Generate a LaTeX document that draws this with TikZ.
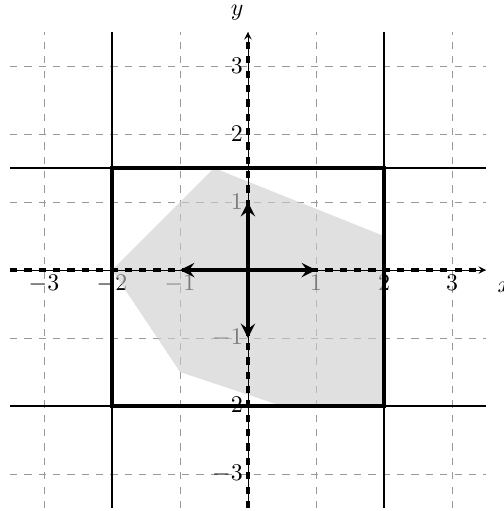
\documentclass[tikz,border=0pt]{standalone}
\usepackage{tikz}
\usetikzlibrary{arrows, positioning}
\usepackage{amsmath}
\tikzstyle{gridline}  = [gray!80, dashed, thin]
\tikzstyle{axis}      = [thin, ->, >=stealth]
\tikzstyle{zeroline}  = [line width=1.4pt, dashed]
\tikzstyle{bound}     = [thick]
\tikzstyle{boxline}   = [ultra thick]
\tikzstyle{region}    = [fill=gray!40, opacity=0.6]
\tikzstyle{vector}    = [ultra thick, ->, >=stealth]
\tikzstyle{tick}      = [inner sep=2pt]

\begin{document}
\begin{tikzpicture}

\useasboundingbox (-3.647,-3.544) rectangle (3.765,3.971);

% mřížka
\draw[gridline] (-3.5,-3.5) grid (3.5,3.5);

% popisky na ose x
\node[tick, below] (xm3) at (-3,0) {$-3$};
\node[tick, below] (xm2) at (-2,0) {$-2$};
\node[tick, below] (xm1) at (-1,0) {$-1$};
\node[tick, below] (xp1) at (1,0)  {$1$};
\node[tick, below] (xp2) at (2,0)  {$2$};
\node[tick, below] (xp3) at (3,0)  {$3$};

% popisky na ose y
\node[tick, left] (ym3) at (0,-3) {$-3$};
\node[tick, left] (ym2) at (0,-2) {$-2$};
\node[tick, left] (ym1) at (0,-1) {$-1$};
\node[tick, left] (yp1) at (0,1)  {$1$};
\node[tick, left] (yp2) at (0,2)  {$2$};
\node[tick, left] (yp3) at (0,3)  {$3$};

% přípustná oblast
\fill[region] (-0.5,1.5) -- (2,0.5) -- (2,-2) -- (0.5,-2) -- (-1,-1.5) -- (-2,0) -- cycle;

% hraniční přímky
\draw[bound] (-3.5,1.5) -- (3.5,1.5);
\draw[bound] (-3.5,-2) -- (3.5,-2);
\draw[bound] (-2,-3.5) -- (-2,3.5);
\draw[bound] (2,-3.5) -- (2,3.5);

% obdélník
\draw[boxline] (-2,-2) rectangle (2,1.5);

% osy
\draw[axis] (-3.5,0) -- (3.5,0);
\draw[axis] (0,-3.5) -- (0,3.5);
\draw[zeroline] (-3.5,0) -- (3.4,0);
\draw[zeroline] (0,-3.5) -- (0,3.4);
\node (xlab) at (3.77,-0.25) {$x$};
\node (ylab) at (-0.16,3.78) {$y$};

% vektory
\coordinate (o) at (0,0);
\coordinate (e1) at (1,0);
\coordinate (e2) at (0,1);
\coordinate (f1) at (-1,0);
\coordinate (f2) at (0,-1);
\draw[vector] (o) -- (e1);
\draw[vector] (o) -- (e2);
\draw[vector] (o) -- (f1);
\draw[vector] (o) -- (f2);

\end{tikzpicture}
\end{document}
